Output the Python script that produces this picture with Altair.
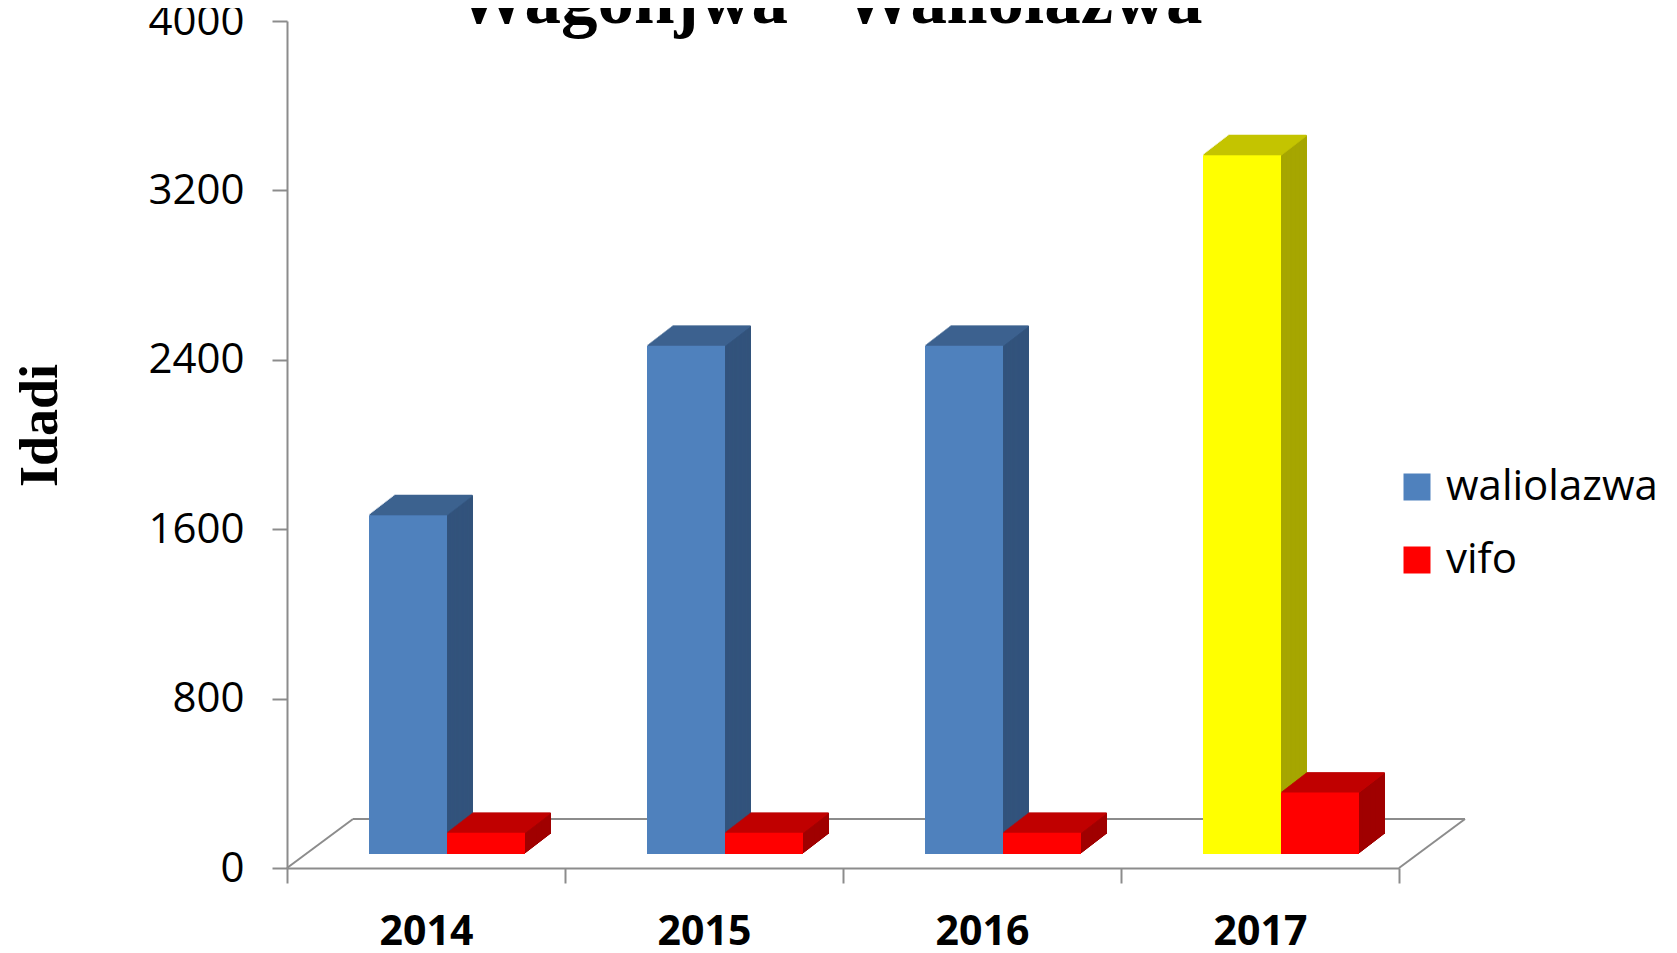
import altair as alt
import pandas as pd

# ---- data ----
years = ["2014", "2015", "2016", "2017"]
waliolazwa = [1600, 2400, 2400, 3300]
vifo = [100, 100, 100, 290]
series_names = ["waliolazwa", "vifo"]
highlight_year = "2017"
y_ticks = [0, 800, 1600, 2400, 3200, 4000]
title_text = "Wagonjwa\u00a0\u00a0 Waliolazwa"
y_title = "Idadi"

rows = []
for i, yr in enumerate(years):
    rows.append({"year": yr, "series": "waliolazwa", "value": waliolazwa[i]})
    rows.append({"year": yr, "series": "vifo", "value": vifo[i]})
df = pd.DataFrame(rows)

# ---- styling ----
W, H = 1112, 847
N = 20           # depth steps for the 3D look
DX, DY = 26, 20  # depth of the prisms in pixels
BASE = -14       # bars stand slightly above the front floor edge
SIZE = 78
OFF = {"waliolazwa": -18, "vifo": 60}
GRAY = "#8c8c8c"

keys = ["waliolazwa", "vifo", "highlight"]
front_cols = ["#4f81bd", "#ff0000", "#ffff00"]
side_cols = ["#32537c", "#a00000", "#a6a600"]
top_cols = ["#3c628f", "#c00000", "#c4c400"]
domain = keys + [k + "|side" for k in keys] + [k + "|top" for k in keys]
rng = front_cols + side_cols + top_cols

x_axis = alt.Axis(
    title=None, labelAngle=0, labelFont="Open Sans", labelFontWeight="bold",
    labelFontSize=41, labelColor="black", tickBand="extent", tickSize=15,
    tickColor=GRAY, tickWidth=2, domainColor=GRAY, domainWidth=2, labelPadding=29,
)
y_axis = alt.Axis(
    values=y_ticks, format="d", grid=False, labelFont="Open Sans", labelFontSize=42,
    labelColor="black", tickSize=15, tickColor=GRAY, tickWidth=2,
    domainColor=GRAY, domainWidth=2, labelPadding=28,
    title=y_title, titleFont="Liberation Serif", titleFontSize=54,
    titleFontWeight="bold", titleColor="black", titleAngle=270,
    titleX=-231, titleY=404, titleAlign="center", titleBaseline="alphabetic",
)
x_enc = alt.X("year:N", sort=years,
              scale=alt.Scale(domain=years, paddingInner=0, paddingOuter=0),
              axis=x_axis)
y_enc = alt.Y("value:Q", scale=alt.Scale(domain=[0, 4000], nice=False, zero=True),
              axis=y_axis)
legend = alt.Legend(
    values=series_names, title=None, orient="none", legendX=1109, legendY=445,
    symbolType="square", symbolSize=729, symbolStrokeWidth=0,
    labelFont="Open Sans", labelFontSize=42, labelColor="black", labelLimit=0,
    labelOffset=8, rowPadding=31, padding=0,
)
color_enc = alt.Color("ck:N", scale=alt.Scale(domain=domain, range=rng), legend=legend)

key_expr = (f"datum.series == 'waliolazwa' && datum.year == '{highlight_year}'"
            " ? 'highlight' : datum.series")


def base_layer(series, suffix):
    return (alt.Chart()
            .transform_filter(alt.datum.series == series)
            .transform_calculate(key=key_expr)
            .transform_calculate(ck=f"datum.key + '{suffix}'"))


layers = []
one = alt.Data(values=[{}])

# floor (back edge and two diagonals)
layers.append(alt.Chart(one).mark_rule(color=GRAY, strokeWidth=2, yOffset=-49)
              .encode(y=alt.datum(0), x=alt.value(66), x2=alt.value(W + 66)))
layers.append(alt.Chart(one).mark_rule(color=GRAY, strokeWidth=2, y2Offset=-49)
              .encode(y=alt.datum(0), y2=alt.datum(0), x=alt.value(0), x2=alt.value(66)))
layers.append(alt.Chart(one).mark_rule(color=GRAY, strokeWidth=2, y2Offset=-49)
              .encode(y=alt.datum(0), y2=alt.datum(0), x=alt.value(W), x2=alt.value(W + 66)))

# side stacks
for s in series_names:
    for k in range(N, 0, -1):
        off = BASE - k * DY / N
        layers.append(
            base_layer(s, "|side")
            .mark_bar(size=SIZE, xOffset=OFF[s] + k * DX / N, yOffset=off, y2Offset=off)
            .encode(x=x_enc, y=y_enc, y2=alt.datum(0), color=color_enc)
        )
# top faces
for s in series_names:
    for k in range(N):
        layers.append(
            base_layer(s, "|top")
            .mark_bar(size=SIZE, xOffset=OFF[s] + (k + 0.5) * DX / N,
                      yOffset=BASE - (k + 1) * DY / N - 0.4,
                      y2Offset=BASE - k * DY / N + 0.4)
            .encode(x=x_enc, y=y_enc, y2=alt.Y2("value"), color=color_enc)
        )
# front faces
for s in series_names:
    layers.append(
        base_layer(s, "")
        .mark_bar(size=SIZE, xOffset=OFF[s], yOffset=BASE, y2Offset=BASE)
        .encode(x=x_enc, y=y_enc, y2=alt.datum(0), color=color_enc)
    )

# chart title, partly cut off at the top edge as in the reference
layers.append(
    alt.Chart(one).mark_text(
        text=title_text, font="Liberation Serif", fontSize=73, fontWeight="bold",
        color="black", align="center", baseline="alphabetic",
    ).encode(x=alt.value(542), y=alt.value(2))
)

chart = (
    alt.layer(*layers, data=df)
    .properties(
        width=W, height=H,
        autosize=alt.AutoSizeParams(type="none"),
        padding={"left": 279, "top": 13, "right": 270, "bottom": 83},
        background="white",
    )
    .configure_view(stroke=None)
)

chart.save("out.html", embed_options={"renderer": "svg", "actions": False})
